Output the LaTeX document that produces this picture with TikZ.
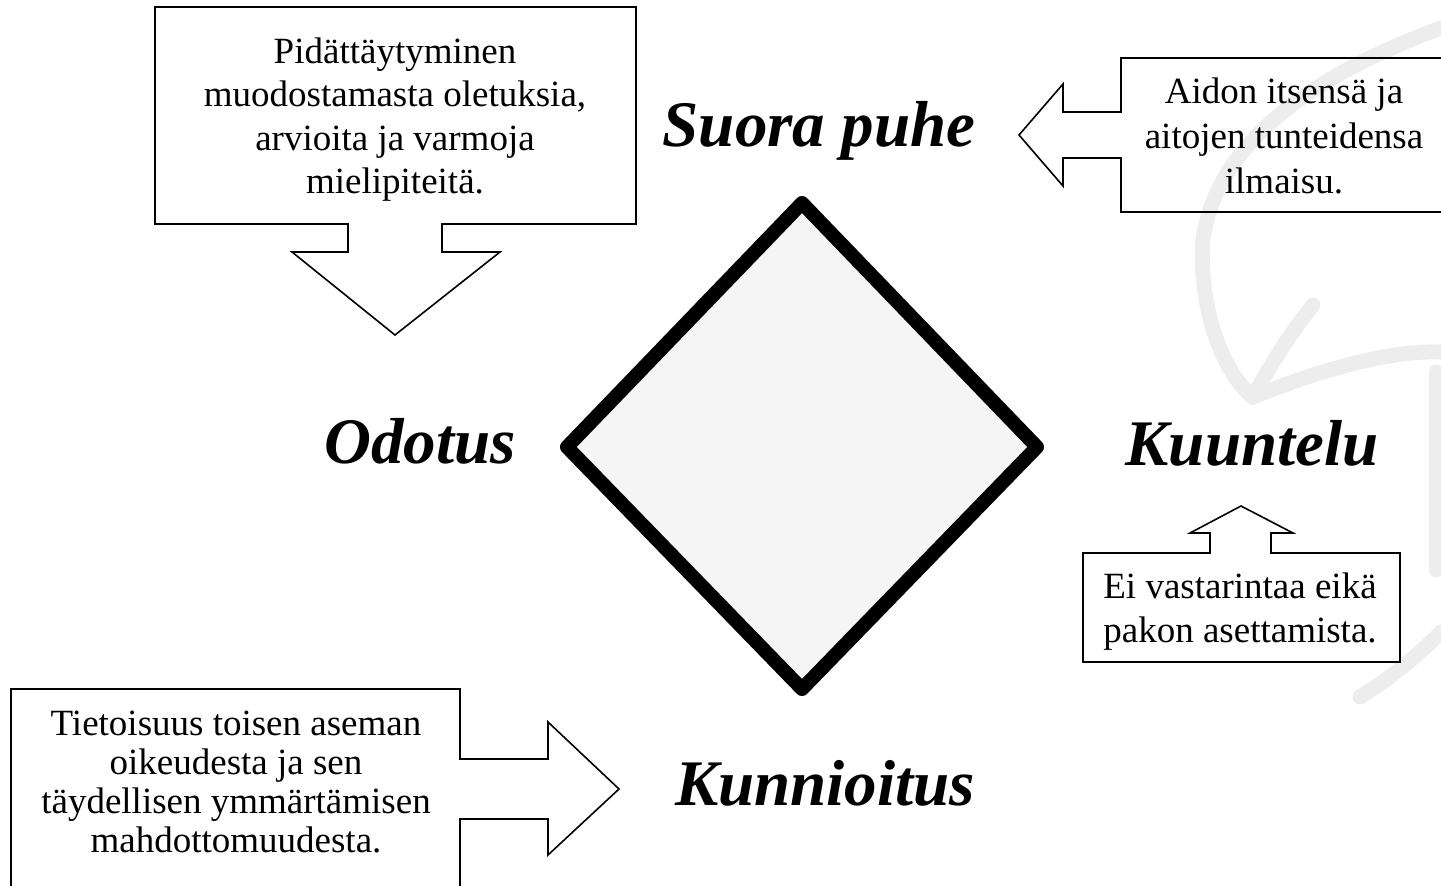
\documentclass[tikz,border=0pt]{standalone}
\usepackage{fontspec}
\setmainfont{Liberation Serif}
\begin{document}
\begin{tikzpicture}[x=1pt,y=-1pt,
  calloutbox/.style={draw=black,line width=1.6pt,line join=miter},
  bodytext/.style={align=center,inner sep=0pt},
  titletext/.style={font=\fontsize{65}{70}\selectfont\bfseries\itshape,anchor=base,inner sep=0pt},
  wmark/.style={draw=gray!14,line width=15pt,line cap=round}]
\useasboundingbox (0,0) rectangle (1441,886);
% faint watermark
\draw[wmark] (1441,28) .. controls (1300,80) and (1215,150) .. (1203,240)
  .. controls (1198,320) and (1230,380) .. (1253,397);
\draw[wmark] (1313,305) .. controls (1285,340) and (1265,375) .. (1253,397);
\draw[wmark] (1253,397) .. controls (1320,370) and (1390,350) .. (1441,352);
\draw[wmark] (1436,372) -- (1436,570);
\draw[wmark] (1360,697) .. controls (1400,672) and (1425,648) .. (1441,632);
% central diamond
\coordinate (dt) at (802,203);
\coordinate (dr) at (1037,447);
\coordinate (db) at (802,689);
\coordinate (dl) at (567,447);
\draw[line width=14pt,line join=round,fill=gray!8] (dt) -- (dr) -- (db) -- (dl) -- cycle;
% titles
\node[titletext] (suora) at (819,146) {Suora puhe};
\node[titletext] (odotus) at (420,463) {Odotus};
\node[titletext] (kuuntelu) at (1252,465) {Kuuntelu};
\node[titletext] (kunnioitus) at (825,805) {Kunnioitus};
% top-left callout (down arrow)
\draw[calloutbox] (155,7) -- (636,7) -- (636,224) -- (442,224) -- (442,252) -- (500,252)
  -- (395,335) -- (292,252) -- (348,252) -- (348,224) -- (155,224) -- cycle;
\node[bodytext,font=\fontsize{37}{43.3}\selectfont] (tl) at (395,119.8)
  {\strut Pidättäytyminen\\ \strut muodostamasta oletuksia,\\ \strut arvioita ja varmoja\\ \strut mielipiteitä.};
% top-right callout (left arrow)
\draw[calloutbox] (1121,58) -- (1443,58) -- (1443,212) -- (1121,212) -- (1121,158) -- (1063,158)
  -- (1063,186) -- (1019,135) -- (1063,84) -- (1063,112) -- (1121,112) -- cycle;
\node[bodytext,font=\fontsize{37}{45}\selectfont] (tr) at (1284,139)
  {\strut Aidon itsensä ja\\ \strut aitojen tunteidensa\\ \strut ilmaisu.};
% bottom-right callout (up arrow)
\draw[calloutbox] (1083,553) -- (1210,553) -- (1210,533) -- (1190,533) -- (1241,506)
  -- (1293,533) -- (1271,533) -- (1271,553) -- (1400,553) -- (1400,662) -- (1083,662) -- cycle;
\node[bodytext,font=\fontsize{37}{44}\selectfont] (br) at (1240,611.2)
  {\strut Ei vastarintaa eikä\\ \strut pakon asettamista.};
% bottom-left callout (right arrow)
\draw[calloutbox] (11,892) -- (11,689) -- (460,689) -- (460,759) -- (548,759) -- (548,722)
  -- (619,789) -- (548,855) -- (548,819) -- (460,819) -- (460,892);
\node[bodytext,font=\fontsize{37}{39}\selectfont] (bl) at (236,785.7)
  {\strut Tietoisuus toisen aseman\\ \strut oikeudesta ja sen\\ \strut täydellisen ymmärtämisen\\ \strut mahdottomuudesta.};
\end{tikzpicture}
\end{document}
